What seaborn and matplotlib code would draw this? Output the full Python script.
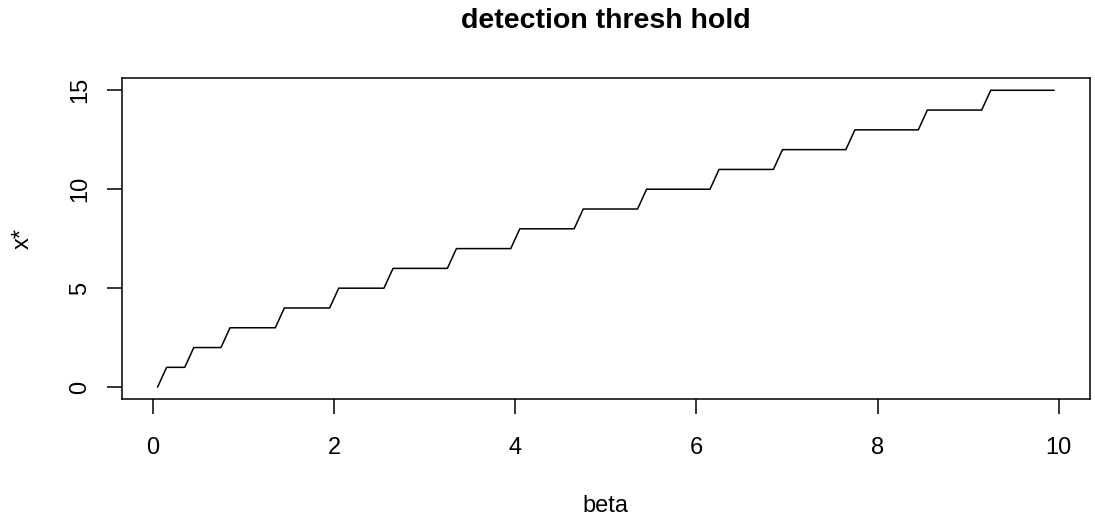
import numpy as np
import pandas as pd
import matplotlib
matplotlib.use("Agg")
import matplotlib.pyplot as plt
import seaborn as sns

# ---- data ----
beta = np.round(np.arange(0.05, 10.0, 0.1), 2)  # sampling grid 0.05 ... 9.95
xstar = [0,
         1, 1, 1,
         2, 2, 2, 2,
         3, 3, 3, 3, 3, 3,
         4, 4, 4, 4, 4, 4,
         5, 5, 5, 5, 5, 5,
         6, 6, 6, 6, 6, 6, 6,
         7, 7, 7, 7, 7, 7, 7,
         8, 8, 8, 8, 8, 8, 8,
         9, 9, 9, 9, 9, 9, 9,
         10, 10, 10, 10, 10, 10, 10, 10,
         11, 11, 11, 11, 11, 11, 11,
         12, 12, 12, 12, 12, 12, 12, 12,
         13, 13, 13, 13, 13, 13, 13, 13,
         14, 14, 14, 14, 14, 14, 14,
         15, 15, 15, 15, 15, 15, 15, 15]
x_ticks = [0, 2, 4, 6, 8, 10]
y_ticks = [0, 5, 10, 15]
title = "detection thresh hold"
xlabel = "beta"
ylabel = "x*"

df = pd.DataFrame({"beta": beta, "xstar": xstar})

sns.set_style("white")
plt.rcParams["font.family"] = ["Liberation Sans", "DejaVu Sans"]

W, H = 1095, 523
fig = plt.figure(figsize=(W / 100, H / 100), dpi=100)
left, right, top, bottom = 121.7, 1090.0, 78.4, 399.0
ax = fig.add_axes([left / W, 1 - bottom / H, (right - left) / W, (bottom - top) / H])

sns.lineplot(data=df, x="beta", y="xstar", ax=ax, color="black",
             linewidth=1.1, estimator=None)

ax.set_xlim(-0.346, 10.346)
ax.set_ylim(-0.6, 15.6)
ax.set_xticks(x_ticks)
ax.set_yticks(y_ticks)
ax.set_xticklabels([str(t) for t in x_ticks])
ax.set_yticklabels([str(t) for t in y_ticks], rotation=90, va="center")

for s in ax.spines.values():
    s.set_visible(True)
    s.set_color("black")
    s.set_linewidth(1.1)

ax.tick_params(axis="both", which="major", direction="out", length=10.8,
               width=1.1, color="black", labelsize=17, labelcolor="black",
               bottom=True, left=True)
ax.tick_params(axis="x", pad=16.3)
ax.tick_params(axis="y", pad=11.0)

ax.set_xlabel(xlabel, fontsize=17, color="black", va="baseline")
ax.xaxis.set_label_coords(0.5, (399.0 - 511.7) / (bottom - top))
ax.set_ylabel(ylabel, fontsize=17, color="black", va="baseline")
ax.yaxis.set_label_coords((28.3 - left) / (right - left), 0.5)

fig.text(606 / W, 1 - 28.3 / H, title, ha="center", va="baseline",
         fontsize=20.5, fontweight="bold", color="black")

fig.savefig("out.png", dpi=100, facecolor="white")
